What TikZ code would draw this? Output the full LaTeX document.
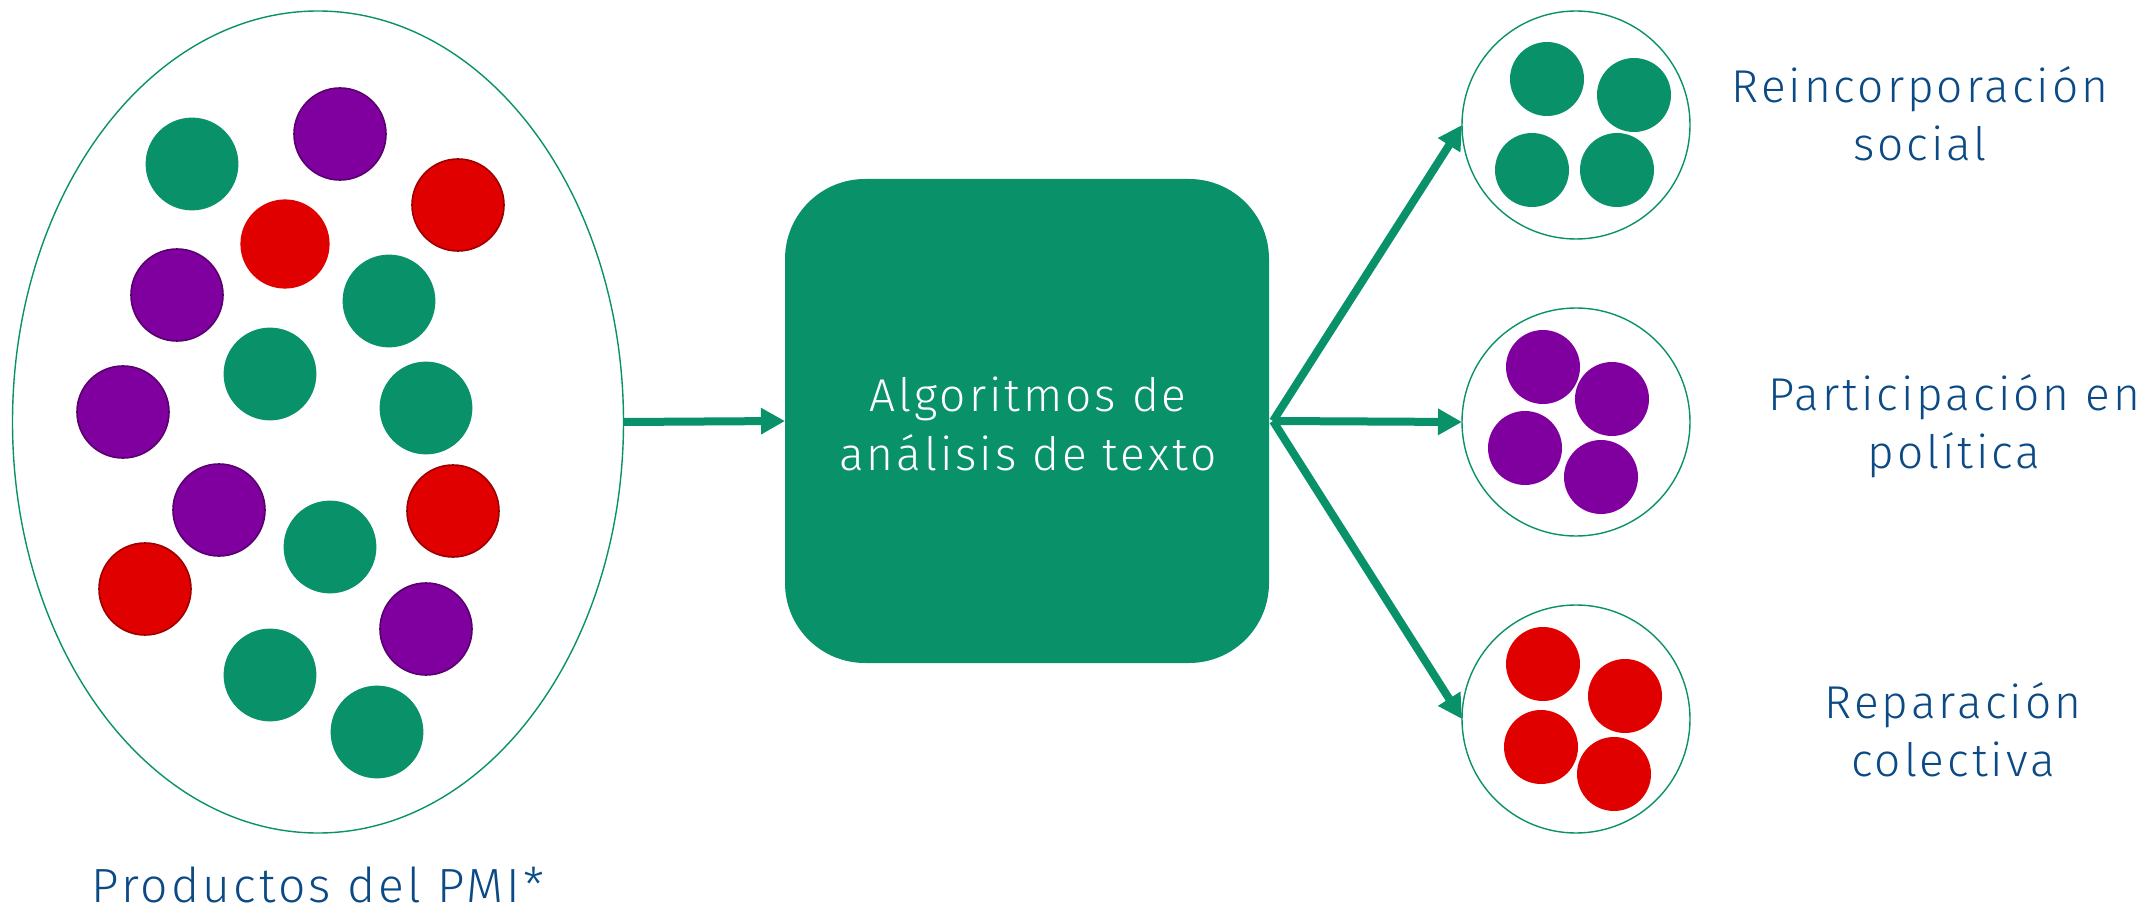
\documentclass[tikz,border=0pt]{standalone}
\usepackage{fontspec}
\setmainfont{Fira Sans}[UprightFont=* Light,LetterSpace=6.5]
\usetikzlibrary{arrows.meta,shapes.geometric}
\definecolor{pgreen}{HTML}{09916A}
\definecolor{ppurple}{HTML}{7F009F}
\definecolor{pred}{HTML}{E00000}
\definecolor{ptext}{HTML}{0B4A85}
\tikzset{
  dotg/.style={fill=pgreen},
  dotp/.style={fill=ppurple,draw=ppurple!70!black,line width=0.8pt},
  dotr/.style={fill=pred,draw=pred!70!black,line width=0.8pt},
  flow/.style={draw=pgreen,line width=4pt,-{Triangle[length=12pt,width=12.5pt]}},
  lbl/.style={text=ptext,font=\fontsize{23}{28.8}\selectfont,align=center,inner sep=0pt},
  group/.style={circle,draw=pgreen,line width=0.7pt,minimum size=114pt,inner sep=0pt,outer sep=0pt}
}
\begin{document}
\begin{tikzpicture}[x=0.5pt,y=-0.5pt]
\useasboundingbox (0,0) rectangle (2148,909);
% big ellipse
\node[ellipse,draw=pgreen,line width=0.7pt,minimum width=305.5pt,minimum height=411pt,inner sep=0pt,outer sep=0pt] (pool) at (318,422) {};
\foreach \x/\y in {192/164,389/301,270/374,426/408,330/547,270/675,377/732}
  \fill[dotg] (\x,\y) circle[radius=23.2pt];
\foreach \x/\y in {340/134,177/295,123/412,219/510,426/629}
  \draw[dotp] (\x,\y) circle[radius=23pt];
\foreach \x/\y in {458/205,453/511,145/589}
  \draw[dotr] (\x,\y) circle[radius=23pt];
\fill[pred] (285,244) circle[radius=22.3pt];
% central box
\node[fill=pgreen,rounded corners=40pt,minimum width=242pt,minimum height=242pt,inner sep=0pt,outer sep=0pt] (algo) at (1027,421) {};
\node[lbl,text=white,font=\fontsize{23}{29.5}\selectfont] (algotxt) at (1028,424) {Algoritmos de\\análisis de texto};
% right groups
\node[group] (g1) at (1576,125) {};
\node[group] (g2) at (1576,422) {};
\node[group] (g3) at (1576,719) {};
\foreach \x/\y in {1547/79,1634/95,1532/170,1617/170}
  \fill[dotg] (\x,\y) circle[radius=18.5pt];
\foreach \x/\y in {1543/367,1612/399,1525/448,1601/477}
  \fill[ppurple] (\x,\y) circle[radius=18.5pt];
\foreach \x/\y in {1543/664,1625/696,1541/747,1614/774}
  \fill[pred] (\x,\y) circle[radius=18.5pt];
% arrows
\draw[flow] (pool.east) -- (algo.west);
\coordinate (src) at ([xshift=2pt]algo.east);
\draw[flow] (src) -- (g1.west);
\draw[flow] (src) -- (g2.west);
\draw[flow] (src) -- (g3.west);
% labels
\node[lbl] (l1) at (1920,114) {Reincorporación\\social};
\node[lbl] (l2) at (1954,426) {Participación en\\política};
\node[lbl] (l3) at (1953,730) {Reparación\\colectiva};
\node[lbl,font=\fontsize{24}{29}\selectfont] (l0) at (318,885) {Productos del PMI*};
\end{tikzpicture}
\end{document}
